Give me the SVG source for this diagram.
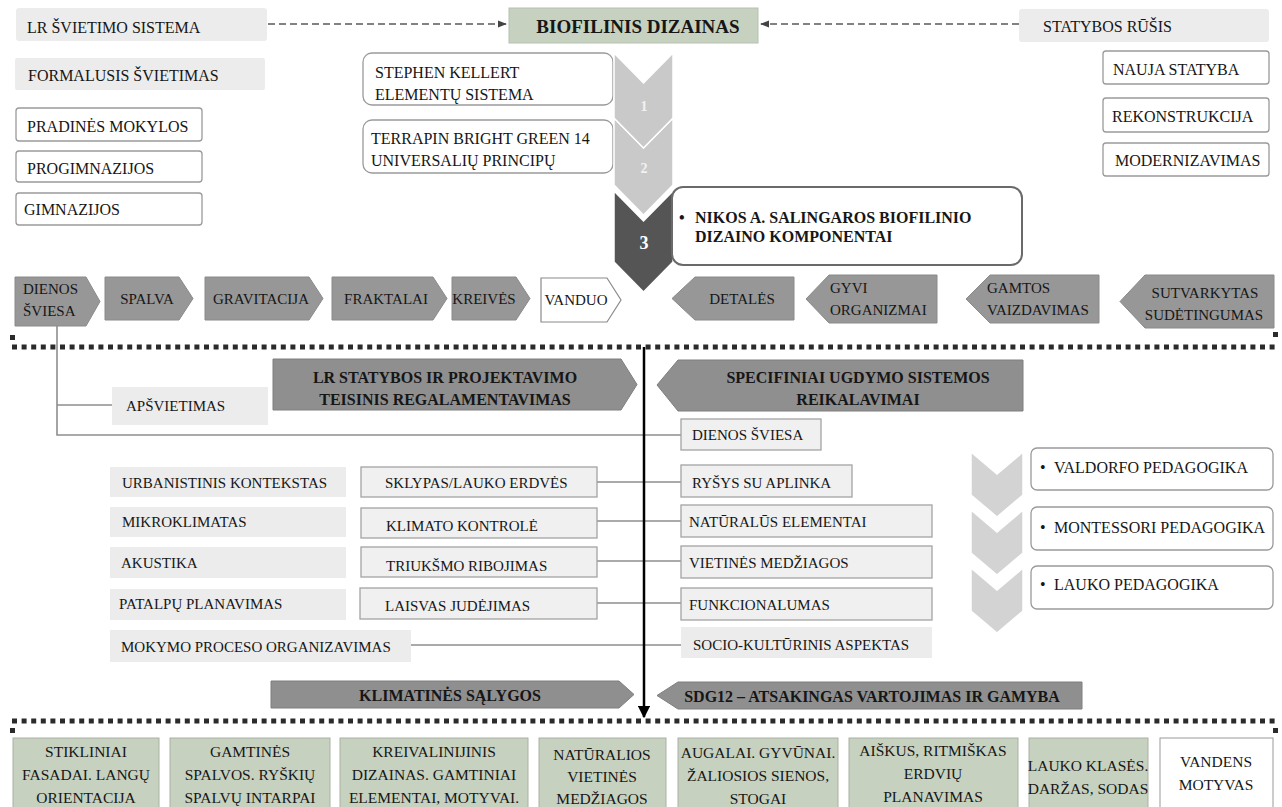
<svg xmlns="http://www.w3.org/2000/svg" width="1282" height="807" viewBox="0 0 1282 807">
<defs>
<style>
.t{font-family:"Liberation Serif","Times New Roman",serif;font-size:16px;fill:#161616}
.m{font-size:15px}
.s{font-size:15.5px}
.b{font-weight:bold}
.c{text-anchor:middle}
.g{fill:#ececec}
.w{fill:#fff;stroke:#9a9a9a;stroke-width:1.3}
.bx{fill:#f0f0f0;stroke:#a3a3a3;stroke-width:1.3}
.p{fill:#979797;stroke:#8a8a8a;stroke-width:1}
.band{fill:#8f8f8f;stroke:#7f7f7f;stroke-width:1}
.gr{fill:#c6d1bf;stroke:#a9b2a3;stroke-width:1}
.cn{stroke:#8e8e8e;stroke-width:1.6;fill:none}
.ds{stroke:#5a5a5a;stroke-width:1.3;stroke-dasharray:7 4;fill:none}
.dt{stroke:#2b2b2b;stroke-width:5;stroke-dasharray:5 4.6;fill:none}
.chl{fill:#c9c9c9;stroke:#fff;stroke-width:1.5}
.chr{fill:#d3d3d3;stroke:#fff;stroke-width:1.5}
</style>
<marker id="ah" viewBox="0 0 10 10" refX="9" refY="5" markerWidth="7" markerHeight="7" orient="auto" markerUnits="strokeWidth"><path d="M0,1 L10,5 L0,9 z" fill="#444"/></marker>
<marker id="ab" viewBox="0 0 10 10" refX="9" refY="5" markerWidth="5" markerHeight="5" orient="auto" markerUnits="strokeWidth"><path d="M0,0 L10,5 L0,10 z" fill="#000"/></marker>
</defs>
<rect x="0" y="0" width="1282" height="807" fill="#fff"/>

<g id="separators">
<path class="dt" d="M12,347 H1277"/>
<rect x="10" y="335" width="5" height="5" fill="#2b2b2b"/>
<rect x="1273" y="332" width="5" height="5" fill="#2b2b2b"/>
<path class="dt" d="M12,721 H1277"/>
<rect x="10" y="728" width="5" height="5" fill="#2b2b2b"/>
<rect x="1273" y="728" width="5" height="5" fill="#2b2b2b"/>
</g>

<g id="connectors">
<path class="ds" d="M268,24 H506" marker-end="url(#ah)"/>
<path class="ds" d="M1019,24 H761" marker-end="url(#ah)"/>
<path class="cn" d="M57,326 V435 H681"/>
<path class="cn" d="M57,405 H112"/>
<path class="cn" d="M597,482 H681"/>
<path class="cn" d="M597,521 H681"/>
<path class="cn" d="M597,561 H681"/>
<path class="cn" d="M597,603 H681"/>
<path class="cn" d="M411,645 H681"/>
<path d="M644,347 V717" stroke="#000" stroke-width="2.5" fill="none" marker-end="url(#ab)"/>
</g>

<!-- top left -->
<g id="n-lr-svietimo"><rect class="g" x="16" y="8" width="251" height="33" rx="3"/><text class="t" x="27" y="33">LR ŠVIETIMO SISTEMA</text></g>
<g id="n-formalusis"><rect class="g" x="15" y="58" width="250" height="32" rx="2"/><text class="t" x="28" y="81">FORMALUSIS ŠVIETIMAS</text></g>
<g id="n-pradines"><rect class="w" x="16" y="108" width="186" height="33" rx="3"/><text class="t" x="27" y="132">PRADINĖS MOKYLOS</text></g>
<g id="n-progimnazijos"><rect class="w" x="16" y="151" width="186" height="31" rx="3"/><text class="t" x="27" y="174">PROGIMNAZIJOS</text></g>
<g id="n-gimnazijos"><rect class="w" x="16" y="193" width="186" height="32" rx="3"/><text class="t" x="24" y="215">GIMNAZIJOS</text></g>

<!-- top center -->
<g id="n-biofilinis"><rect x="509" y="8" width="249" height="35" fill="#c6d1bf" stroke="#b6c0b0"/><text class="t b c" x="638" y="33" style="font-size:19px">BIOFILINIS DIZAINAS</text></g>
<g id="n-kellert"><rect class="w" x="363" y="53" width="250" height="52" rx="9"/><text class="t" x="375" y="78">STEPHEN KELLERT</text><text class="t" x="375" y="100">ELEMENTŲ SISTEMA</text></g>
<g id="n-terrapin"><rect class="w" x="363" y="120" width="250" height="53" rx="9"/><text class="t" x="371" y="144">TERRAPIN BRIGHT GREEN 14</text><text class="t" x="371" y="166">UNIVERSALIŲ PRINCIPŲ</text></g>
<g id="n-chevron3"><polygon points="614,191 643.5,221 673,191 673,262 643.5,292 614,262" fill="#555" stroke="#fff" stroke-width="1.5"/><text class="t b c" x="644" y="249" style="font-size:18px;fill:#fff">3</text></g>
<g id="n-chevron2"><polygon class="chl" points="614,118 643.5,148 673,118 673,185 643.5,215 614,185"/><text class="t b c" x="644" y="173" style="font-size:14px;fill:#f2f2f2">2</text></g>
<g id="n-chevron1"><polygon class="chl" points="614,53 643.5,83 673,53 673,118 643.5,148 614,118"/><text class="t b c" x="644" y="111" style="font-size:14px;fill:#f2f2f2">1</text></g>
<g id="n-nikos"><rect x="672" y="187" width="350" height="78" rx="11" fill="#fff" stroke="#6a6a6a" stroke-width="2"/><text class="t b" y="223"><tspan x="679">•</tspan><tspan x="695">NIKOS A. SALINGAROS BIOFILINIO</tspan></text><text class="t b" x="695" y="242">DIZAINO KOMPONENTAI</text></g>

<!-- top right -->
<g id="n-statybos-rusis"><rect class="g" x="1019" y="9" width="250" height="33" rx="3"/><text class="t" x="1043" y="32">STATYBOS RŪŠIS</text></g>
<g id="n-nauja"><rect class="w" x="1103" y="51" width="166" height="33" rx="3"/><text class="t" x="1113" y="75">NAUJA STATYBA</text></g>
<g id="n-rekonstrukcija"><rect class="w" x="1103" y="98" width="166" height="34" rx="3"/><text class="t" x="1112" y="122">REKONSTRUKCIJA</text></g>
<g id="n-modernizavimas"><rect class="w" x="1103" y="143" width="166" height="33" rx="3"/><text class="t" x="1115" y="166">MODERNIZAVIMAS</text></g>

<!-- arrow row -->
<g id="n-dienos"><polygon class="p" points="15,277 86,277 100,301.5 86,326 15,326"/><text class="t m" x="23" y="294">DIENOS</text><text class="t m" x="23" y="316">ŠVIESA</text></g>
<g id="n-spalva"><polygon class="p" points="105,277 179,277 193,298.5 179,320 105,320"/><text class="t m c" x="147" y="304">SPALVA</text></g>
<g id="n-gravitacija"><polygon class="p" points="205,277 309,277 323,298.5 309,320 205,320"/><text class="t m c" x="261" y="304">GRAVITACIJA</text></g>
<g id="n-fraktalai"><polygon class="p" points="332,277 433,277 447,298.5 433,320 332,320"/><text class="t m c" x="386" y="304">FRAKTALAI</text></g>
<g id="n-kreives"><polygon class="p" points="452,277 516,277 530,298.5 516,320 452,320"/><text class="t m c" x="484" y="304">KREIVĖS</text></g>
<g id="n-vanduo"><polygon points="541,278 607,278 621,300 607,322 541,322" fill="#fff" stroke="#8a8a8a" stroke-width="1.2"/><text class="t m c" x="576" y="305">VANDUO</text></g>
<g id="n-detales"><polygon class="p" points="672,298.5 695,277 794,277 794,320 695,320"/><text class="t m c" x="742" y="304">DETALĖS</text></g>
<g id="n-gyvi"><polygon class="p" points="806,299 829,275 937,275 937,323 829,323"/><text class="t m" x="830" y="293">GYVI</text><text class="t m" x="830" y="315">ORGANIZMAI</text></g>
<g id="n-gamtos"><polygon class="p" points="966,299 990,275 1099,275 1099,323 990,323"/><text class="t m" x="987" y="293">GAMTOS</text><text class="t m" x="987" y="315">VAIZDAVIMAS</text></g>
<g id="n-sutvarkytas"><polygon class="p" points="1120,301.5 1145,275 1274,275 1274,328 1145,328"/><text class="t m c" x="1205" y="298">SUTVARKYTAS</text><text class="t m c" x="1204" y="320">SUDĖTINGUMAS</text></g>

<!-- middle bands -->
<g id="n-lr-statybos"><polygon class="band" points="273,359 621,359 637,384.5 621,410 273,410"/><text class="t b c" x="445" y="383">LR STATYBOS IR PROJEKTAVIMO</text><text class="t b c" x="445" y="405">TEISINIS REGALAMENTAVIMAS</text></g>
<g id="n-specifiniai"><polygon class="band" points="657,385 678,360 1023,360 1023,411 678,411"/><text class="t b c" x="858" y="383">SPECIFINIAI UGDYMO SISTEMOS</text><text class="t b c" x="858" y="405">REIKALAVIMAI</text></g>
<g id="n-apsvietimas"><rect class="g" x="112" y="387" width="156" height="38"/><text class="t m" x="126" y="411">APŠVIETIMAS</text></g>
<g id="n-dienos-sviesa"><rect class="bx" x="681" y="419" width="140" height="31"/><text class="t m" x="692" y="440">DIENOS ŠVIESA</text></g>

<!-- left column -->
<g id="n-urbanistinis"><rect class="g" x="110" y="467" width="236" height="30"/><text class="t m" x="122" y="488">URBANISTINIS KONTEKSTAS</text></g>
<g id="n-mikroklimatas"><rect class="g" x="110" y="507" width="236" height="30"/><text class="t m" x="122" y="527">MIKROKLIMATAS</text></g>
<g id="n-akustika"><rect class="g" x="110" y="547" width="236" height="31"/><text class="t m" x="121" y="568">AKUSTIKA</text></g>
<g id="n-patalpu"><rect class="g" x="110" y="589" width="236" height="31"/><text class="t m" x="119" y="609">PATALPŲ PLANAVIMAS</text></g>
<g id="n-mokymo"><rect class="g" x="110" y="630" width="301" height="32"/><text class="t m" x="121" y="652">MOKYMO PROCESO ORGANIZAVIMAS</text></g>

<!-- middle column -->
<g id="n-sklypas"><rect class="bx" x="361" y="467" width="236" height="30"/><text class="t m" x="385" y="488">SKLYPAS/LAUKO ERDVĖS</text></g>
<g id="n-klimato"><rect class="bx" x="361" y="508" width="236" height="30"/><text class="t m" x="386" y="531">KLIMATO KONTROLĖ</text></g>
<g id="n-triuksmo"><rect class="bx" x="361" y="547" width="236" height="30"/><text class="t m" x="386" y="571">TRIUKŠMO RIBOJIMAS</text></g>
<g id="n-laisvas"><rect class="bx" x="360" y="588" width="237" height="31"/><text class="t m" x="385" y="611">LAISVAS JUDĖJIMAS</text></g>

<!-- right column -->
<g id="n-rysys"><rect class="bx" x="681" y="465" width="171" height="32"/><text class="t m" x="692" y="488">RYŠYS SU APLINKA</text></g>
<g id="n-naturalus"><rect class="bx" x="681" y="505" width="251" height="32"/><text class="t m" x="689" y="527">NATŪRALŪS ELEMENTAI</text></g>
<g id="n-vietines"><rect class="bx" x="681" y="546" width="251" height="32"/><text class="t m" x="689" y="568">VIETINĖS MEDŽIAGOS</text></g>
<g id="n-funkcionalumas"><rect class="bx" x="681" y="588" width="251" height="32"/><text class="t m" x="689" y="610">FUNKCIONALUMAS</text></g>
<g id="n-socio"><rect class="g" x="681" y="627" width="251" height="31"/><text class="t m" x="693" y="650">SOCIO-KULTŪRINIS ASPEKTAS</text></g>

<!-- pedagogy -->
<g id="n-chev-r3"><polygon class="chr" points="971,568 997,590 1023,568 1023,611 997,633 971,611"/></g>
<g id="n-chev-r2"><polygon class="chr" points="971,510 997,532 1023,510 1023,553 997,575 971,553"/></g>
<g id="n-chev-r1"><polygon class="chr" points="971,452 997,474 1023,452 1023,495 997,517 971,495"/></g>
<g id="n-valdorfo"><rect class="w" x="1031" y="448" width="242" height="42" rx="6"/><text class="t" y="473"><tspan x="1040">•</tspan><tspan x="1054">VALDORFO PEDAGOGIKA</tspan></text></g>
<g id="n-montessori"><rect class="w" x="1031" y="507" width="242" height="43" rx="6"/><text class="t" y="533"><tspan x="1040">•</tspan><tspan x="1054">MONTESSORI PEDAGOGIKA</tspan></text></g>
<g id="n-lauko-ped"><rect class="w" x="1031" y="566" width="242" height="43" rx="6"/><text class="t" y="590"><tspan x="1040">•</tspan><tspan x="1054">LAUKO PEDAGOGIKA</tspan></text></g>

<!-- bottom bands -->
<g id="n-klimatines"><polygon class="band" points="271,681 619,681 634,694.5 619,708 271,708"/><text class="t b c" x="450" y="701">KLIMATINĖS SĄLYGOS</text></g>
<g id="n-sdg12"><polygon class="band" points="657,695.5 678,682 1082,682 1082,709 678,709"/><text class="t b c" x="872" y="702">SDG12 – ATSAKINGAS VARTOJIMAS IR GAMYBA</text></g>

<!-- bottom boxes -->
<g id="n-b1"><rect class="gr" x="13" y="738" width="146" height="72"/><text class="t s c" x="86" y="757">STIKLINIAI</text><text class="t s c" x="86" y="780">FASADAI. LANGŲ</text><text class="t s c" x="86" y="803">ORIENTACIJA</text></g>
<g id="n-b2"><rect class="gr" x="170" y="738" width="160" height="72"/><text class="t s c" x="250" y="757">GAMTINĖS</text><text class="t s c" x="250" y="780">SPALVOS. RYŠKIŲ</text><text class="t s c" x="250" y="803">SPALVŲ INTARPAI</text></g>
<g id="n-b3"><rect class="gr" x="340" y="738" width="188" height="72"/><text class="t s c" x="434" y="757">KREIVALINIJINIS</text><text class="t s c" x="434" y="780">DIZAINAS. GAMTINIAI</text><text class="t s c" x="434" y="803">ELEMENTAI, MOTYVAI.</text></g>
<g id="n-b4"><rect class="gr" x="539" y="738" width="127" height="72"/><text class="t s c" x="602" y="760">NATŪRALIOS</text><text class="t s c" x="602" y="782">VIETINĖS</text><text class="t s c" x="602" y="804">MEDŽIAGOS</text></g>
<g id="n-b5"><rect class="gr" x="678" y="738" width="160" height="72"/><text class="t s c" x="758" y="758">AUGALAI. GYVŪNAI.</text><text class="t s c" x="758" y="781">ŽALIOSIOS SIENOS,</text><text class="t s c" x="758" y="804">STOGAI</text></g>
<g id="n-b6"><rect class="gr" x="849" y="738" width="169" height="72"/><text class="t s c" x="933" y="756">AIŠKUS, RITMIŠKAS</text><text class="t s c" x="933" y="779">ERDVIŲ</text><text class="t s c" x="933" y="802">PLANAVIMAS</text></g>
<g id="n-b7"><rect class="gr" x="1029" y="738" width="119" height="72"/><text class="t s c" x="1088" y="771">LAUKO KLASĖS.</text><text class="t s c" x="1088" y="794">DARŽAS, SODAS</text></g>
<g id="n-b8"><rect x="1160" y="738" width="113" height="72" fill="#fff" stroke="#9a9a9a" stroke-width="1"/><text class="t s c" x="1216" y="767">VANDENS</text><text class="t s c" x="1216" y="790">MOTYVAS</text></g>
</svg>
